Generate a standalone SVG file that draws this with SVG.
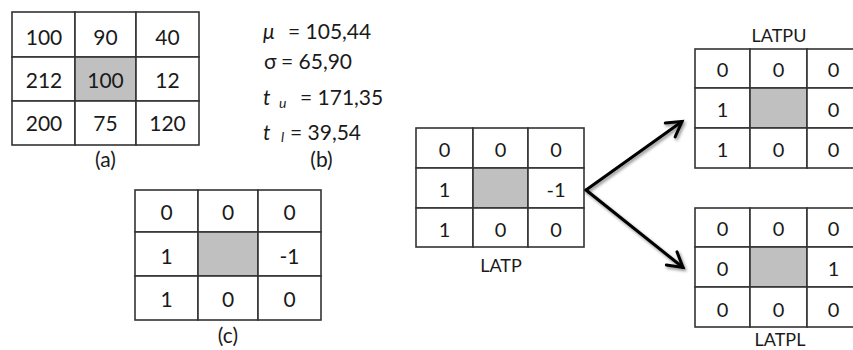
<svg xmlns="http://www.w3.org/2000/svg" width="853" height="350" viewBox="0 0 853 350">
<style>
.c{fill:#fff;stroke:#333;stroke-width:1.6}
.g{fill:#c0c0c0;stroke:#333;stroke-width:1.6}
text{font-family:Lato,"Open Sans","Liberation Sans",sans-serif;fill:#1a1a1a}
.n{font-size:21px;text-anchor:middle}
.s{font-size:20px;text-anchor:middle}
.lb{font-size:18px;text-anchor:middle}
.b{font-size:21px}
.i{font-style:italic}
.arr{fill:none;stroke:#000;stroke-width:3;stroke-linecap:round;marker-end:url(#ah);filter:url(#sh)}
</style>
<defs>
<marker id="ah" markerUnits="userSpaceOnUse" markerWidth="24" markerHeight="24" refX="16" refY="10" orient="auto" overflow="visible">
<path d="M1.5,1.5 L16,10 L1.5,18.5" fill="none" stroke="#000" stroke-width="3" stroke-linecap="round" stroke-linejoin="miter"/>
</marker>
<filter id="sh" x="-20%" y="-20%" width="140%" height="140%">
<feDropShadow dx="1.5" dy="2" stdDeviation="1.5" flood-color="#000" flood-opacity="0.45"/>
</filter>
</defs>

<g id="gridA">
<rect class="c" x="12" y="12" width="63" height="45"/>
<rect class="c" x="75" y="12" width="61" height="45"/>
<rect class="c" x="136" y="12" width="63" height="45"/>
<rect class="c" x="12" y="57" width="63" height="44"/>
<rect class="g" x="75" y="57" width="61" height="44"/>
<rect class="c" x="136" y="57" width="63" height="44"/>
<rect class="c" x="12" y="101" width="63" height="44"/>
<rect class="c" x="75" y="101" width="61" height="44"/>
<rect class="c" x="136" y="101" width="63" height="44"/>
<text class="n" x="44" y="44.5">100</text>
<text class="n" x="105.5" y="44.5">90</text>
<text class="n" x="167.5" y="44.5">40</text>
<text class="n" x="44" y="88">212</text>
<text class="n" x="105.5" y="88">100</text>
<text class="n" x="167.5" y="88">12</text>
<text class="n" x="44" y="131">200</text>
<text class="n" x="105.5" y="131">75</text>
<text class="n" x="167.5" y="131">120</text>
<text class="n" x="105.5" y="167">(a)</text>
</g>

<g id="stats">
<text class="b i" x="263" y="39">μ</text>
<text class="b" x="288" y="39">= 105,44</text>
<text class="b" x="264" y="69">σ</text>
<text class="b" x="281" y="69">= 65,90</text>
<text class="b i" x="263" y="105">t</text>
<text class="i" x="279" y="108" font-size="14">u</text>
<text class="b" x="300" y="105">= 171,35</text>
<text class="b i" x="263" y="140">t</text>
<text class="i" x="281" y="142" font-size="14">l</text>
<text class="b" x="290" y="140">= 39,54</text>
<text class="n" x="321.5" y="167">(b)</text>
</g>

<g id="gridC">
<rect class="c" x="135" y="190" width="63" height="42"/>
<rect class="c" x="198" y="190" width="60" height="42"/>
<rect class="c" x="258" y="190" width="63" height="42"/>
<rect class="c" x="135" y="232" width="63" height="44"/>
<rect class="g" x="198" y="232" width="60" height="44"/>
<rect class="c" x="258" y="232" width="63" height="44"/>
<rect class="c" x="135" y="276" width="63" height="44"/>
<rect class="c" x="198" y="276" width="60" height="44"/>
<rect class="c" x="258" y="276" width="63" height="44"/>
<text class="n" x="166.5" y="220">0</text>
<text class="n" x="228" y="220">0</text>
<text class="n" x="289.5" y="220">0</text>
<text class="n" x="166.5" y="264">1</text>
<text class="n" x="289.5" y="264">-1</text>
<text class="n" x="166.5" y="307">1</text>
<text class="n" x="228" y="307">0</text>
<text class="n" x="289.5" y="307">0</text>
<text class="n" x="228" y="343">(c)</text>
</g>

<g id="LATP">
<rect class="c" x="416" y="128" width="57" height="40"/>
<rect class="c" x="473" y="128" width="55" height="40"/>
<rect class="c" x="528" y="128" width="56" height="40"/>
<rect class="c" x="416" y="168" width="57" height="40"/>
<rect class="g" x="473" y="168" width="55" height="40"/>
<rect class="c" x="528" y="168" width="56" height="40"/>
<rect class="c" x="416" y="208" width="57" height="39"/>
<rect class="c" x="473" y="208" width="55" height="39"/>
<rect class="c" x="528" y="208" width="56" height="39"/>
<text class="s" x="444.5" y="157">0</text>
<text class="s" x="500.5" y="157">0</text>
<text class="s" x="556" y="157">0</text>
<text class="s" x="444.5" y="197">1</text>
<text class="s" x="556" y="197">-1</text>
<text class="s" x="444.5" y="237">1</text>
<text class="s" x="500.5" y="237">0</text>
<text class="s" x="556" y="237">0</text>
<text class="lb" x="501" y="272">LATP</text>
</g>

<g id="LATPU">
<rect class="c" x="695" y="49" width="55" height="39"/>
<rect class="c" x="750" y="49" width="57" height="39"/>
<rect class="c" x="807" y="49" width="55" height="39"/>
<rect class="c" x="695" y="88" width="55" height="40"/>
<rect class="g" x="750" y="88" width="57" height="40"/>
<rect class="c" x="807" y="88" width="55" height="40"/>
<rect class="c" x="695" y="128" width="55" height="40"/>
<rect class="c" x="750" y="128" width="57" height="40"/>
<rect class="c" x="807" y="128" width="55" height="40"/>
<text class="s" x="722.5" y="77">0</text>
<text class="s" x="778.5" y="77">0</text>
<text class="s" x="833.5" y="77">0</text>
<text class="s" x="722.5" y="117">1</text>
<text class="s" x="833.5" y="117">0</text>
<text class="s" x="722.5" y="157">1</text>
<text class="s" x="778.5" y="157">0</text>
<text class="s" x="833.5" y="157">0</text>
<text class="lb" x="779" y="42">LATPU</text>
</g>

<g id="LATPL">
<rect class="c" x="695" y="208" width="55" height="39"/>
<rect class="c" x="750" y="208" width="57" height="39"/>
<rect class="c" x="807" y="208" width="55" height="39"/>
<rect class="c" x="695" y="247" width="55" height="40"/>
<rect class="g" x="750" y="247" width="57" height="40"/>
<rect class="c" x="807" y="247" width="55" height="40"/>
<rect class="c" x="695" y="287" width="55" height="40"/>
<rect class="c" x="750" y="287" width="57" height="40"/>
<rect class="c" x="807" y="287" width="55" height="40"/>
<text class="s" x="722.5" y="236">0</text>
<text class="s" x="778.5" y="236">0</text>
<text class="s" x="833.5" y="236">0</text>
<text class="s" x="722.5" y="276">0</text>
<text class="s" x="833.5" y="276">1</text>
<text class="s" x="722.5" y="317">0</text>
<text class="s" x="778.5" y="317">0</text>
<text class="s" x="833.5" y="317">0</text>
<text class="lb" x="780" y="346">LATPL</text>
</g>

<g id="connectors">
<path class="arr" d="M586,190 L682,121.5"/>
<path class="arr" d="M586,190 L683,267.5"/>
</g>
</svg>
